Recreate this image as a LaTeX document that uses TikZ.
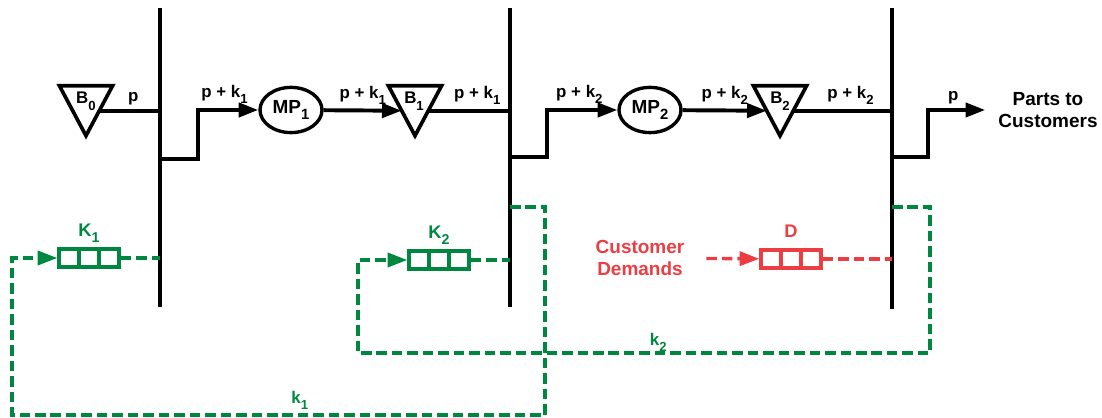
\documentclass[tikz,border=0pt]{standalone}
\usepackage{fontspec}
\usepackage{graphicx}
\setmainfont{Liberation Sans}
\usetikzlibrary{positioning, arrows.meta, shapes.geometric, calc}
\definecolor{feedback}{HTML}{00873F}
\definecolor{demand}{HTML}{EC3D42}
\newcommand{\lowidx}[1]{\raisebox{-0.36em}{\scalebox{0.78}{#1}}}

\begin{document}
\begin{tikzpicture}[
    x=0.025cm, y=-0.025cm,
    >={Triangle[length=14pt, width=10pt]},
    line width=2.8pt,
    font=\bfseries,
    buf/.style={draw, isosceles triangle, isosceles triangle stretches,
                shape border rotate=270, minimum width=1.33cm, minimum height=1.25cm,
                inner sep=0pt, outer sep=0pt, line width=2.6pt},
    buftxt/.style={anchor=base, font=\fontsize{12}{14}\selectfont\bfseries},
    mp/.style={draw, ellipse, minimum width=1.55cm, minimum height=1.13cm,
               inner sep=0pt, line width=2.4pt, font=\fontsize{13.5}{15}\selectfont\bfseries},
    queue/.style={draw=#1, rectangle, minimum width=1.5cm, minimum height=0.45cm,
                  line width=2.4pt,
                  path picture={
                    \draw[#1, line width=2.4pt]
                      ($(path picture bounding box.south west)!1/3!(path picture bounding box.south east)$) --
                      ($(path picture bounding box.north west)!1/3!(path picture bounding box.north east)$)
                      ($(path picture bounding box.south west)!2/3!(path picture bounding box.south east)$) --
                      ($(path picture bounding box.north west)!2/3!(path picture bounding box.north east)$);
                  }},
    lbl/.style={above, inner sep=3pt, font=\fontsize{12}{14}\selectfont\bfseries},
    qlbl/.style={font=\fontsize{13}{15}\selectfont\bfseries},
    big/.style={align=center, font=\fontsize{13.5}{15.8}\selectfont\bfseries},
    fb/.style={feedback, line width=2.4pt, dash pattern=on 7.5pt off 3.5pt},
    dem/.style={demand, line width=2.4pt, dash pattern=on 7.5pt off 3.5pt},
]
\useasboundingbox (0,0) rectangle (1102,418);

% the three stage lines
\coordinate (bar1top) at (160,8);
\coordinate (bar1bot) at (160,307);
\coordinate (bar2top) at (510,8);
\coordinate (bar2bot) at (510,307);
\coordinate (bar3top) at (892,8);
\coordinate (bar3bot) at (892,309);
\draw (bar1top) -- (bar1bot);
\draw (bar2top) -- (bar2bot);
\draw (bar3top) -- (bar3bot);

% buffers and machines
\node[buf] (b0) at (86,101.7) {};
\node[buftxt] (b0txt) at (86,104) {B\lowidx{0}};
\node[mp] (mp1) at (291,110) {MP\lowidx{1}};
\node[buf] (b1) at (415,101.7) {};
\node[buftxt] (b1txt) at (414,104) {B\lowidx{1}};
\node[mp] (mp2) at (650,110) {MP\lowidx{2}};
\node[buf] (b2) at (780,101.7) {};
\node[buftxt] (b2txt) at (780,104) {B\lowidx{2}};
\node[big, inner xsep=8pt] (parts) at (1048,110) {Parts to\\Customers};

% part flow
\coordinate (tap1) at (160,159);
\coordinate (tap2) at (510,157);
\coordinate (tap3) at (892,157);
\draw (b0.left side) -- (b0.left side -| bar1top) node[lbl, pos=0.56] {p};
\draw[->] (tap1) -- ++(38,0) |- (mp1) node[lbl, pos=0.72] {p + k\lowidx{1}};
\draw[->] (mp1) -- (b1.right side) node[lbl, midway] {p + k\lowidx{1}};
\draw (b1.left side) -- (b1.left side -| bar2top) node[lbl, pos=0.6] {p + k\lowidx{1}};
\draw[->] (tap2) -- ++(37,0) |- (mp2) node[lbl, pos=0.73] {p + k\lowidx{2}};
\draw[->] (mp2) -- (b2.right side) node[lbl, midway] {p + k\lowidx{2}};
\draw (b2.left side) -- (b2.left side -| bar3top) node[lbl, pos=0.58] {p + k\lowidx{2}};
\draw[->] (tap3) -- ++(36,0) |- (parts) node[lbl, pos=0.72] {p};

% kanban queues
\node[queue=feedback] (k1q) at (89,258) {};
\node[qlbl, text=feedback, above=8pt of k1q, anchor=base] (k1lbl) {K\lowidx{1}};
\node[queue=feedback] (k2q) at (439,260) {};
\node[qlbl, text=feedback, above=8pt of k2q, anchor=base] (k2lbl) {K\lowidx{2}};
\node[queue=demand] (dq) at (791,259) {};
\node[qlbl, text=demand, above=8pt of dq, anchor=base] (dlbl) {D};
\node[big, text=demand] (cust) at (640,258) {Customer\\Demands};

\draw[fb] (k1q) -- (k1q -| bar1top);
\draw[fb] (k2q) -- (k2q -| bar2top);
\draw[dem] (dq) -- (dq -| bar3top);
\draw[dem, ->, shorten <=11pt] (cust) -- (dq);

% kanban feedback loops
\coordinate (fb2) at (510,207);
\coordinate (k1c1) at (545,415);
\coordinate (k1c2) at (12,415);
\draw[fb, ->] (fb2) -| (k1c1) -- (k1c2) node[lbl, text=feedback, pos=0.46] {k\lowidx{1}} |- (k1q);
\coordinate (fb3) at (892,207);
\coordinate (k2c1) at (930,353);
\coordinate (k2c2) at (358,353);
\draw[fb, ->] (fb3) -| (k2c1) -- (k2c2) node[lbl, text=feedback, inner sep=0pt, pos=0.475] {k\lowidx{2}} |- (k2q);

\end{tikzpicture}
\end{document}
